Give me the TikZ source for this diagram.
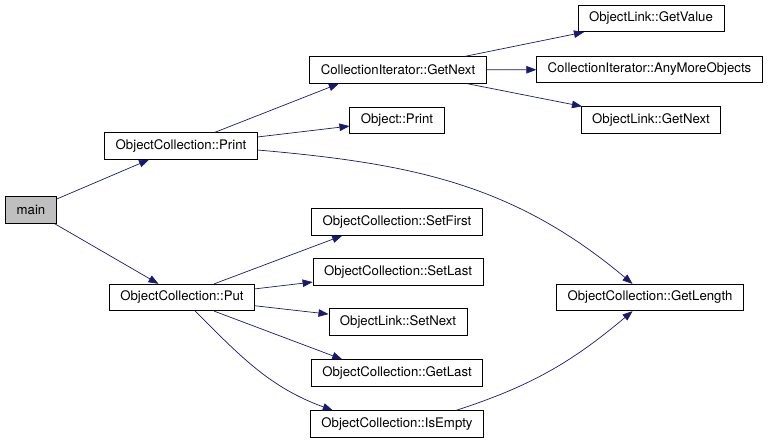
\documentclass[tikz,border=0pt]{standalone}
\usepackage{fontspec}
\setmainfont{TeX Gyre Heros}
\usetikzlibrary{arrows.meta}
\definecolor{navy}{HTML}{191970}
\definecolor{rootgray}{HTML}{BFBFBF}

\begin{document}
\begin{tikzpicture}[x=1pt,y=-1pt,
    fn/.style={draw, fill=white, line width=0.8pt, inner xsep=11pt, inner ysep=0pt,
        minimum height=26.5pt, font=\fontsize{13.2}{15}\selectfont},
    call/.style={draw=navy, line width=0.7pt, -{Triangle[length=10pt,width=7.5pt]}}]
    \useasboundingbox (0,0) rectangle (771,443);

    \node[fn, fill=rootgray] (main) at (31,210) {main};
    \node[fn] (print) at (181,146) {ObjectCollection::Print};
    \node[fn] (put) at (182,297.5) {ObjectCollection::Put};

    \node[fn] (itnext) at (398,70) {CollectionIterator::GetNext};
    \node[fn] (objprint) at (397,120.5) {Object::Print};
    \node[fn] (getvalue) at (651,18.5) {ObjectLink::GetValue};
    \node[fn] (anymore) at (649.5,69.5) {CollectionIterator::AnyMoreObjects};
    \node[fn] (linknext) at (651,120) {ObjectLink::GetNext};

    \node[fn] (setfirst) at (397,222) {ObjectCollection::SetFirst};
    \node[fn] (setlast) at (398,272) {ObjectCollection::SetLast};
    \node[fn] (setnext) at (398,322) {ObjectLink::SetNext};
    \node[fn] (getlast) at (397,373) {ObjectCollection::GetLast};
    \node[fn] (isempty) at (397,424) {ObjectCollection::IsEmpty};
    \node[fn] (getlength) at (650,297.5) {ObjectCollection::GetLength};

    \draw[call] (main) -- (print);
    \draw[call] (main) -- (put);

    \draw[call] (print.22) -- (itnext.193);
    \draw[call] (print) -- (objprint);
    \draw[call] (print.-3) to[out=-5,in=140] (getlength.142);

    \draw[call] (itnext) -- (getvalue);
    \draw[call] (itnext) -- (anymore);
    \draw[call] (itnext) -- (linknext);

    \draw[call] (put.23) -- (setfirst.194);
    \draw[call] (put) -- (setlast);
    \draw[call] (put) -- (setnext);
    \draw[call] (put.-23) -- (getlast.166);
    \draw[call] (put.-46) to[out=-45,in=160] (isempty.168);
    \draw[call] (isempty.13) to[out=18,in=220] (getlength.218);

\end{tikzpicture}
\end{document}
